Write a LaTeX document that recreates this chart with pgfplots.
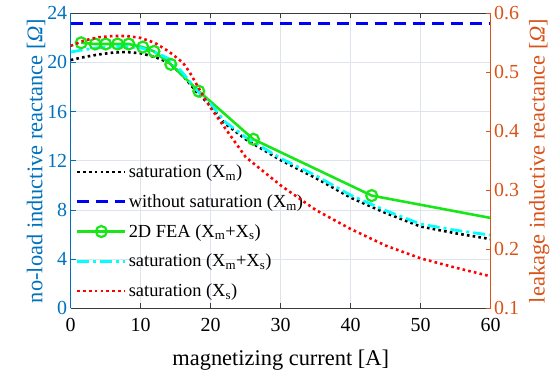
\documentclass[border=0pt]{standalone}
\usepackage{pgfplots}
\pgfplotsset{compat=1.18}
\usepackage{fontspec}
\setmainfont{Liberation Serif}
\definecolor{mblue}{RGB}{0,114,189}
\definecolor{morange}{RGB}{217,83,25}
\definecolor{fgreen}{RGB}{25,230,25}
\definecolor{fcyan}{RGB}{0,255,255}
\definecolor{gridc}{RGB}{222,228,236}
\definecolor{axgray}{RGB}{60,60,60}

\pgfplotstableread{
x black cyan
0 20.2 20.85
2 20.45 21.05
4 20.65 21.2
6 20.8 21.3
8 20.85 21.3
10 20.75 21.2
12 20.45 20.85
14 20.0 20.3
16 18.95 19.15
18 17.6 17.75
20 16.45 16.6
22 15.05 15.2
25 13.75 13.9
30 12.05 12.2
35 10.6 10.8
40 9.0 9.2
45 7.75 7.95
50 6.65 6.85
55 6.1 6.35
60 5.63 5.95
}\satm

\pgfplotstableread{
x fea
1.5 21.6
3.5 21.5
5.0 21.5
6.7 21.5
8.3 21.5
10.3 21.25
11.9 20.9
14.3 19.85
18.3 17.66
26.1 13.75
43.0 9.17
60.0 7.35
}\fea

\pgfplotstableread{
x xs
0 0.5448
2 0.5542
4 0.5594
6 0.5615
8 0.5615
10 0.5583
12 0.5500
14 0.5354
16 0.5167
17 0.5000
18 0.4792
19 0.4583
20 0.4396
22 0.4063
25 0.3563
30 0.3083
35 0.2667
40 0.2344
45 0.2063
50 0.1846
55 0.1688
60 0.1542
}\satxs

\begin{document}
\begin{tikzpicture}
\pgfplotsset{
  every axis/.append style={
    scale only axis, width=420bp, height=295bp, at={(0,0)}, anchor=south west,
    xmin=0, xmax=60,
    tick align=inside,
    major tick length=5bp,
    /pgf/number format/assume math mode=true,
    tick label style={font=\fontsize{20}{22}\selectfont},
    label style={font=\fontsize{22.5}{25}\selectfont},
  },
  mdot/.style={line width=2.6bp, dash pattern=on 2.6bp off 3.2bp},
}
\begin{axis}[
  ymin=0, ymax=24, ytick={0,4,...,24},
  xtick={0,10,...,60},
  axis x line*=box, axis y line*=left,
  x axis line style={axgray, line width=0.8bp},
  y axis line style={mblue, line width=0.8bp},
  ytick style={mblue, line width=0.8bp},
  xtick style={axgray, line width=0.8bp},
  yticklabel style={mblue},
  xticklabel style={yshift=-6bp},
  ylabel style={mblue},
  ylabel shift=-5bp,
  xlabel style={yshift=-12bp},
  grid=major,
  major grid style={gridc, line width=0.8bp},
  xlabel={magnetizing current [A]},
  ylabel={no-load inductive reactance [{\itshape Ω}]},
  legend cell align=left,
  legend style={draw=none, fill=none, at={(0.005,0.02)}, anchor=south west,
    font=\fontsize{18.5}{20}\selectfont, row sep=11.5bp},
  legend image code/.code={\draw[mark repeat=2,mark phase=2,#1,mark indices={2}] plot coordinates {(0bp,0bp) (24bp,0bp) (48bp,0bp)};},
]
\addplot[black, mdot] table[x=x,y=black] {\satm};
\addlegendentry{saturation (X\textsubscript{m})}
\addplot[blue, line width=2.8bp, dash pattern=on 12bp off 7bp] coordinates {(0,23.2) (60,23.2)};
\addlegendentry{without saturation (X\textsubscript{m})}
\addplot[fgreen, line width=2.6bp, mark=o, mark size=5.5bp, mark indices={1,...,11}, mark options={solid, line width=2.2bp}] table[x=x,y=fea] {\fea};
\addlegendentry{2D FEA (X\textsubscript{m}+X\textsubscript{s})}
\addplot[fcyan, line width=2.8bp, dash pattern=on 12bp off 4bp on 3bp off 4bp] table[x=x,y=cyan] {\satm};
\addlegendentry{saturation (X\textsubscript{m}+X\textsubscript{s})}
\addlegendimage{red, mdot}
\addlegendentry{saturation (X\textsubscript{s})}
\end{axis}
\begin{axis}[
  ymin=0.1, ymax=0.6, ytick={0.1,0.2,...,0.6},
  axis x line=none, axis y line*=right,
  y axis line style={morange, line width=0.8bp},
  ytick style={morange, line width=0.8bp},
  yticklabel style={morange, /pgf/number format/fixed, /pgf/number format/precision=1, /pgf/number format/fixed zerofill},
  ylabel style={morange},
  ylabel shift=3bp,
  ylabel={leakage inductive reactance [{\itshape Ω}]},
]
\addplot[red, mdot] table[x=x,y=xs] {\satxs};
\end{axis}
\pgfresetboundingbox
\path (-70.7bp,-62.7bp) rectangle (489.3bp,308.3bp);
\end{tikzpicture}
\end{document}
